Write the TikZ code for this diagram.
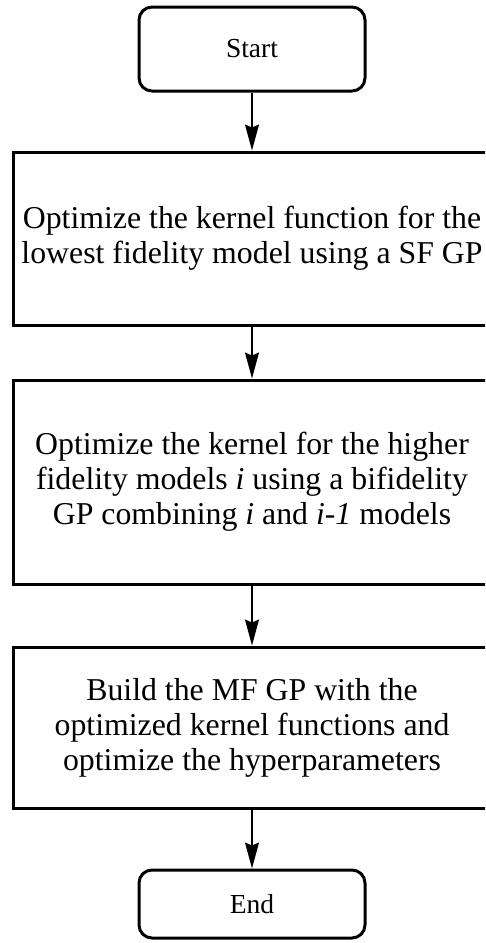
\documentclass[tikz,border=0pt]{standalone}
\usepackage{fontspec}
\setmainfont{Liberation Serif}
\usetikzlibrary{arrows.meta,positioning}

\begin{document}
\begin{tikzpicture}[x=1pt, y=-1pt,
    terminal/.style={draw, line width=3pt, rounded corners=13pt, inner sep=0pt,
        minimum width=226pt, font=\fontsize{27.5}{33}\selectfont},
    process/.style={draw, line width=3pt, inner sep=0pt, align=center,
        minimum width=478pt, font=\fontsize{31.8}{35}\selectfont},
    flowarrow/.style={line width=1.6pt, -{Stealth[length=26pt,width=14pt,inset=3pt]}}]

\clip (0,0) rectangle (485,943);
\fill[white] (0,0) rectangle (485,943);

% Terminals
\node[terminal, minimum height=84pt] (start) at (252,49) {Start};
\node[terminal, minimum height=68pt] (end) at (252,904) {End};

% Steps
\node[process, minimum height=173pt] (lowfid) at (252,238.5)
    {Optimize the kernel function for the\\lowest fidelity model using a SF GP};
\node[process, minimum height=204pt] (bifid) at (252,482)
    {Optimize the kernel for the higher\\fidelity models \textit{i} using a bifidelity\\GP combining \textit{i} and \textit{i-1} models};
\node[process, minimum height=161pt] (mfgp) at (252,727.5)
    {Build the MF GP with the\\optimized kernel functions and\\optimize the hyperparameters};

% Flow
\draw[flowarrow] (start) -- (lowfid);
\draw[flowarrow] (lowfid) -- (bifid);
\draw[flowarrow] (bifid) -- (mfgp);
\draw[flowarrow] (mfgp) -- (end);

\end{tikzpicture}
\end{document}
